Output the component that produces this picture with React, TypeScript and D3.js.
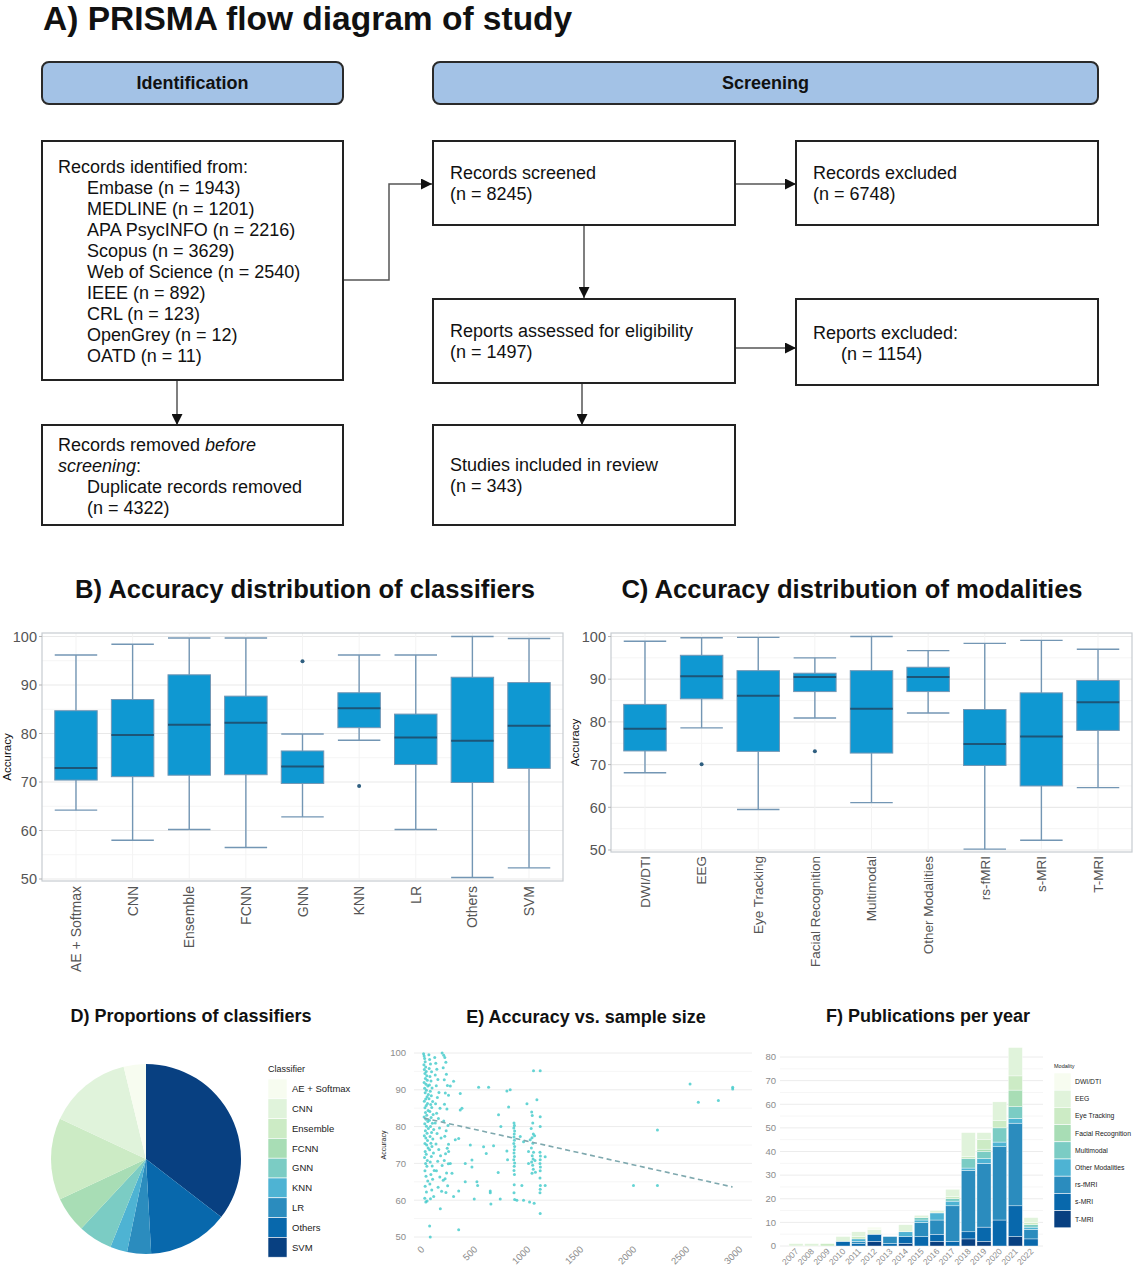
import * as d3 from 'd3';
import React from 'react';

const FONT = '"Liberation Sans", Arial, Helvetica, sans-serif';

/* ================= A) PRISMA ================= */

const sourceLines = [
  'Embase (n = 1943)',
  'MEDLINE (n = 1201)',
  'APA PsycINFO (n = 2216)',
  'Scopus (n = 3629)',
  'Web of Science (n = 2540)',
  'IEEE (n = 892)',
  'CRL (n = 123)',
  'OpenGrey (n = 12)',
  'OATD (n = 11)',
];

/* ================= B) classifiers ================= */

const classifiers = ['AE + Softmax', 'CNN', 'Ensemble', 'FCNN', 'GNN', 'KNN', 'LR', 'Others', 'SVM'];
const clfLower = [64.2, 58.0, 60.2, 56.5, 62.8, 78.6, 60.2, 50.3, 52.3];
const clfQ1 = [70.4, 71.1, 71.4, 71.5, 69.7, 81.2, 73.6, 69.9, 72.8];
const clfMedian = [72.9, 79.7, 81.8, 82.2, 73.2, 85.2, 79.2, 78.5, 81.6];
const clfQ3 = [84.7, 87.0, 92.1, 87.7, 76.4, 88.4, 84.0, 91.6, 90.5];
const clfUpper = [96.2, 98.4, 99.7, 99.7, 79.9, 96.2, 96.2, 100, 99.6];
const clfOutliers: number[][] = [[], [], [], [], [94.9], [69.2], [], [], []];

/* ================= C) modalities ================= */

const modalities = ['DWI/DTI', 'EEG', 'Eye Tracking', 'Facial Recognition', 'Multimodal', 'Other Modalities', 'rs-fMRI', 's-MRI', 'T-MRI'];
const modLower = [68.1, 78.6, 59.5, 80.9, 61.1, 82.1, 50.2, 52.3, 64.6];
const modQ1 = [73.2, 85.4, 73.1, 87.1, 72.7, 87.1, 69.8, 65.0, 78.0];
const modMedian = [78.4, 90.7, 86.1, 90.5, 83.1, 90.5, 74.8, 76.6, 84.6];
const modQ3 = [84.1, 95.6, 92.0, 91.4, 92.0, 92.8, 82.9, 86.8, 89.7];
const modUpper = [98.9, 99.7, 99.8, 95.0, 100, 96.7, 98.4, 99.1, 97.0];
const modOutliers: number[][] = [[], [70.1], [], [73.1], [], [], [], [], []];

/* ================= D) pie ================= */

const classifierCounts = [13, 49, 48, 21, 20, 10, 14, 47, 122];

/* ================= E) scatter ================= */

const scatterPoints: [number, number][] = [
  [15, 99.8], [20, 99.2], [25, 98.5], [30, 97.6], [18, 96.8], [35, 96.2], [22, 95.5], [40, 95], [28, 94.4], [45, 93.8],
  [32, 93.1], [50, 92.6], [20, 92], [38, 91.5], [55, 91], [25, 90.4], [42, 89.9], [30, 89.2], [60, 88.7], [48, 88.1],
  [35, 87.5], [22, 86.9], [52, 86.3], [40, 85.7], [28, 85.1], [58, 84.4], [33, 83.8], [45, 83.1], [20, 82.6], [38, 82],
  [55, 81.4], [26, 80.8], [42, 80.1], [60, 79.5], [32, 78.9], [48, 78.2], [22, 77.5], [36, 76.9], [52, 76.2], [28, 75.4],
  [44, 75], [58, 74.2], [30, 73.2], [40, 72.5], [24, 71.6], [50, 70.8], [34, 70], [46, 69.2], [28, 68], [38, 66.5],
  [54, 65.2], [30, 63.8], [42, 62.2], [26, 60.5], [36, 59.5], [48, 59.8],
  [65, 99.5], [72, 98.2], [80, 97], [68, 95.8], [90, 94.9], [75, 93.6], [85, 92.4], [70, 91.3], [95, 90.5], [78, 89.6],
  [88, 88.4], [66, 87.6], [100, 86.8], [82, 86], [92, 85.2], [74, 84.1], [105, 83.3], [86, 82.5], [70, 81.7], [98, 80.9],
  [80, 80], [110, 79.2], [90, 78.4], [76, 77.3], [102, 76.6], [84, 75.5], [94, 74.6], [72, 73.7], [108, 72.8], [88, 71.9],
  [78, 70.4], [96, 69.3], [115, 68.1], [84, 67], [100, 65.7], [74, 64.4], [92, 62.8], [110, 61], [80, 60.4], [72, 53], [78, 50],
  [120, 98.8], [130, 97.2], [140, 95.6], [125, 94], [150, 92.8], [135, 91.1], [160, 89.3], [145, 87.9], [128, 86.2], [170, 85],
  [138, 83.6], [155, 82.2], [125, 81], [165, 79.6], [142, 78.1], [180, 76.9], [132, 75.3], [158, 73.8], [175, 72.1], [148, 70.6],
  [190, 69.4], [136, 68], [168, 66.3], [200, 65.4], [152, 63.5], [185, 62.4], [173, 57.7],
  [190, 100], [205, 99.4], [215, 98.8], [225, 97.5], [200, 96], [230, 94.2], [210, 92.7], [240, 91.2], [220, 89.1], [250, 88.5],
  [212, 86.1], [235, 84.8], [205, 81.5], [245, 80.3], [228, 78.9], [215, 77.4], [250, 75.2], [238, 74.1], [222, 72.6], [210, 70.8],
  [248, 69.9], [232, 67.4], [218, 65.8], [242, 63.9], [226, 62.1],
  [267, 91], [298, 92.3], [361, 89], [361, 84.5], [377, 85], [314, 76.4], [346, 76.8], [251, 73.2], [267, 70], [283, 67.3],
  [408, 70], [408, 65], [298, 61], [346, 62.5], [346, 52], [456, 75], [471, 70.9], [471, 69], [493, 60.3], [518, 65],
  [525, 64], [534, 90.7], [581, 74.5], [606, 72.7], [628, 90.7], [644, 62.5], [644, 62], [650, 59], [675, 74.8], [719, 67.5],
  [722, 83.2], [738, 60.3], [744, 80], [801, 89.7], [801, 73.4], [807, 71], [817, 85.3], [832, 90],
  [868, 81], [872, 80.3], [866, 79.6], [874, 78.8], [870, 78], [868, 77.2], [872, 76.3], [866, 75.4], [874, 74.6], [870, 73.7],
  [868, 72.8], [872, 71.9], [866, 71], [874, 70.1], [870, 69.2], [868, 68.1], [872, 67], [870, 64.2], [868, 62], [874, 60.2],
  [895, 60], [927, 77.3], [942, 64], [958, 75.9], [958, 60], [990, 86.2], [1005, 73.2], [1005, 70], [1015, 59.5], [1021, 76.4],
  [1035, 84], [1040, 83], [1045, 81], [1030, 79.5], [1050, 78], [1038, 77], [1046, 75.5], [1032, 74.2], [1052, 73], [1040, 72.1],
  [1048, 71.2], [1034, 70.4], [1044, 69.5], [1050, 68.4], [1038, 67.3], [1052, 95.2], [1062, 77.5], [1066, 70.8], [1070, 67.6],
  [1084, 87.3], [1058, 59.2],
  [1115, 95.2], [1115, 82.7], [1115, 80], [1113, 73], [1117, 72], [1115, 71], [1113, 70], [1117, 69], [1115, 68], [1113, 66],
  [1117, 64], [1115, 63], [1113, 62], [1115, 56.4], [1162, 71.8], [1162, 64],
  [1995, 64], [2221, 79.1], [2221, 64], [2529, 91.6], [2607, 86.6], [2796, 87.1], [2931, 90.7], [2931, 90.2],
];
const trendLine: [number, number][] = [[20, 82.3], [2930, 63.6]];
const sampleTicks = [0, 500, 1000, 1500, 2000, 2500, 3000];

/* ================= F) publications ================= */

const years = ['2007', '2008', '2009', '2010', '2011', '2012', '2013', '2014', '2015', '2016', '2017', '2018', '2019', '2020', '2021', '2022'];
const pubDWI = [0, 0, 0, 0, 0, 1, 0, 0, 0, 0, 0, 0, 0, 0, 0, 0];
const pubEEG = [1, 1, 0, 2, 2, 2, 0, 3, 1, 1, 3, 10, 3, 8, 12, 2];
const pubEye = [0, 0, 1, 0, 1, 0, 0, 0, 0, 0, 1, 1, 4, 3, 6, 1];
const pubFacial = [0, 0, 0, 0, 0, 0, 0, 0, 0, 0, 0, 0, 1, 0, 7, 0];
const pubMulti = [0, 0, 0, 0, 0, 0, 0, 0, 1, 0, 1, 4, 3, 6, 5, 1];
const pubOther = [0, 0, 0, 0, 1, 0, 0, 2, 1, 3, 2, 1, 2, 2, 2, 1];
const pubRsfMRI = [0, 0, 0, 0, 1, 0, 3, 0, 6, 6, 15, 26, 27, 31, 35, 4];
const pubSMRI = [0, 0, 0, 2, 1, 3, 1, 3, 4, 3, 2, 3, 6, 11, 13, 3];
const pubTMRI = [0, 0, 0, 0, 0, 2, 0, 1, 0, 2, 0, 3, 2, 0, 4, 0];

const palette = d3.schemeGnBu[9];

/* ================= helpers ================= */

function BoxPanel({
  cats, lower, q1, med, q3, upper, outliers,
  left, right, top, bottom, y50, y100, labelTop, accX, labelSize,
}: any) {
  const x = d3.scalePoint<string>().domain(cats).range([left, right]).padding(0.6);
  const y = d3.scaleLinear().domain([50, 100]).range([y50, y100]);
  const bw = x.step() * 0.75;
  const major = y.ticks(5);
  const minor = d3.range(55, 100, 10);
  const wc = '#7396b4';
  return (
    <g>
      {minor.map((v) => (
        <line key={'m' + v} x1={left} x2={right} y1={y(v)} y2={y(v)} stroke="#f3f3f3" strokeWidth={0.8} />
      ))}
      {major.map((v) => (
        <line key={'g' + v} x1={left} x2={right} y1={y(v)} y2={y(v)} stroke="#e9e9e9" strokeWidth={1.2} />
      ))}
      {cats.map((c: string) => (
        <line key={'v' + c} x1={x(c)} x2={x(c)} y1={top} y2={bottom} stroke="#f3f3f3" strokeWidth={1} />
      ))}
      {cats.map((c: string, i: number) => {
        const cx = x(c) as number;
        return (
          <g key={c}>
            <line x1={cx} x2={cx} y1={y(upper[i])} y2={y(q3[i])} stroke={wc} strokeWidth={1.4} />
            <line x1={cx} x2={cx} y1={y(q1[i])} y2={y(lower[i])} stroke={wc} strokeWidth={1.4} />
            <line x1={cx - bw / 2} x2={cx + bw / 2} y1={y(upper[i])} y2={y(upper[i])} stroke={wc} strokeWidth={1.4} />
            <line x1={cx - bw / 2} x2={cx + bw / 2} y1={y(lower[i])} y2={y(lower[i])} stroke={wc} strokeWidth={1.4} />
            <rect x={cx - bw / 2} y={y(q3[i])} width={bw} height={y(q1[i]) - y(q3[i])} fill="#0f98d2" stroke={wc} strokeWidth={1} />
            <line x1={cx - bw / 2} x2={cx + bw / 2} y1={y(med[i])} y2={y(med[i])} stroke="#1d5577" strokeWidth={2} />
            {outliers[i].map((o: number) => (
              <circle key={o} cx={cx} cy={y(o)} r={2} fill="#2f5f80" />
            ))}
          </g>
        );
      })}
      <rect x={left} y={top} width={right - left} height={bottom - top} fill="none" stroke="#c7ccd1" strokeWidth={1.2} />
      {major.map((v) => (
        <g key={'t' + v}>
          <line x1={left - 3} x2={left} y1={y(v)} y2={y(v)} stroke="#b3b3b3" />
          <text x={left - 5} y={y(v)} dy="0.36em" textAnchor="end" fontSize={14.5} fill="#555">{v}</text>
        </g>
      ))}
      {cats.map((c: string) => (
        <text
          key={'l' + c}
          transform={`translate(${x(c)},${labelTop}) rotate(-90)`}
          dy="0.36em"
          textAnchor="end"
          fontSize={labelSize}
          fill="#555"
        >
          {c}
        </text>
      ))}
      <text
        transform={`translate(${accX},${(top + bottom) / 2}) rotate(-90)`}
        textAnchor="middle"
        fontSize={11.5}
        fill="#111"
      >
        Accuracy
      </text>
    </g>
  );
}

function FlowBox({ x, y, w, h }: any) {
  return <rect x={x} y={y} width={w} height={h} fill="white" stroke="#222" strokeWidth={2} />;
}

export default function App() {
  /* ---- D) pie ---- */
  const pieOrder = classifiers.map((c, i) => ({ c, v: classifierCounts[i], color: palette[i] })).reverse();
  const arcs = d3.pie<any>().sort(null).value((d) => d.v)(pieOrder);
  const arcGen = d3.arc<any>().innerRadius(0).outerRadius(95);

  /* ---- E) scatter ---- */
  const xE = d3.scaleLinear().domain([0, 3000]).range([422, 740]);
  const yE = d3.scaleLinear().domain([50, 100]).range([1237, 1053]);

  /* ---- F) stacked ---- */
  const stackKeys = ['T-MRI', 's-MRI', 'rs-fMRI', 'Other Modalities', 'Multimodal', 'Facial Recognition', 'Eye Tracking', 'EEG', 'DWI/DTI'];
  const seriesByKey: Record<string, number[]> = {
    'DWI/DTI': pubDWI, EEG: pubEEG, 'Eye Tracking': pubEye, 'Facial Recognition': pubFacial,
    Multimodal: pubMulti, 'Other Modalities': pubOther, 'rs-fMRI': pubRsfMRI, 's-MRI': pubSMRI, 'T-MRI': pubTMRI,
  };
  const rows = years.map((yr, i) => {
    const r: any = { year: yr };
    stackKeys.forEach((k) => (r[k] = seriesByKey[k][i]));
    return r;
  });
  const stacked = d3.stack<any>().keys(stackKeys)(rows);
  const xF = d3.scaleBand<string>().domain(years).range([786.6, 1040.4]).paddingInner(0.1).paddingOuter(0.15);
  const yF = d3.scaleLinear().domain([0, 80]).range([1246, 1057]);
  const colorOf = (k: string) => palette[modalities.indexOf(k)];

  const arrow = 'url(#arr)';

  return (
    <svg
      width={1137}
      height={1280}
      viewBox="0 0 1137 1280"
      style={{ position: 'absolute', left: 0, top: 0, background: 'white' }}
      fontFamily={FONT}
    >
      <defs>
        <marker id="arr" viewBox="0 0 10 10" refX="10" refY="5" markerWidth="11" markerHeight="11" markerUnits="userSpaceOnUse" orient="auto">
          <path d="M0,0 L10,5 L0,10 z" fill="#111" />
        </marker>
      </defs>
      <rect width={1137} height={1280} fill="white" />

      {/* ================= A ================= */}
      <text x={43} y={30} fontSize={33.5} fontWeight="bold" fill="#111">A) PRISMA flow diagram of study</text>

      <rect x={42} y={62} width={301} height={42} rx={7} fill="#a3c2e6" stroke="#2a2a2a" strokeWidth={2} />
      <text x={192.5} y={83} dy="0.36em" textAnchor="middle" fontSize={18} fontWeight="bold" fill="#111">Identification</text>
      <rect x={433} y={62} width={665} height={42} rx={7} fill="#a3c2e6" stroke="#2a2a2a" strokeWidth={2} />
      <text x={765.5} y={83} dy="0.36em" textAnchor="middle" fontSize={18} fontWeight="bold" fill="#111">Screening</text>

      <g stroke="#555" strokeWidth={1.5} fill="none">
        <polyline points="343,280 389,280 389,184 432,184" markerEnd={arrow} />
        <line x1={735} y1={184} x2={796} y2={184} markerEnd={arrow} />
        <line x1={584} y1={225} x2={584} y2={298} markerEnd={arrow} />
        <line x1={735} y1={348} x2={796} y2={348} markerEnd={arrow} />
        <line x1={582} y1={383} x2={582} y2={425} markerEnd={arrow} />
        <line x1={177} y1={380} x2={177} y2={425} markerEnd={arrow} />
      </g>

      <FlowBox x={42} y={141} w={301} h={239} />
      <FlowBox x={433} y={141} w={302} h={84} />
      <FlowBox x={796} y={141} w={302} h={84} />
      <FlowBox x={433} y={299} w={302} h={84} />
      <FlowBox x={796} y={299} w={302} h={86} />
      <FlowBox x={42} y={425} w={301} h={100} />
      <FlowBox x={433} y={425} w={302} h={100} />

      <g fontSize={18} fill="#111">
        <text x={58} y={173}>Records identified from:</text>
        {sourceLines.map((s, i) => (
          <text key={s} x={87} y={194 + i * 21}>{s}</text>
        ))}
        <text x={450} y={179}>Records screened</text>
        <text x={450} y={200}>(n = 8245)</text>
        <text x={813} y={179}>Records excluded</text>
        <text x={813} y={200}>(n = 6748)</text>
        <text x={450} y={337}>Reports assessed for eligibility</text>
        <text x={450} y={358}>(n = 1497)</text>
        <text x={813} y={339}>Reports excluded:</text>
        <text x={841} y={360}>(n = 1154)</text>
        <text x={450} y={471}>Studies included in review</text>
        <text x={450} y={492}>(n = 343)</text>
        <text x={58} y={451}>
          Records removed <tspan fontStyle="italic">before</tspan>
        </text>
        <text x={58} y={472}>
          <tspan fontStyle="italic">screening</tspan>:
        </text>
        <text x={87} y={493}>Duplicate records removed</text>
        <text x={87} y={514}>(n = 4322)</text>
      </g>

      {/* ================= B & C ================= */}
      <text x={305} y={598} textAnchor="middle" fontSize={25.6} fontWeight="bold" fill="#111">B) Accuracy distribution of classifiers</text>
      <text x={852} y={598} textAnchor="middle" fontSize={25.6} fontWeight="bold" fill="#111">C) Accuracy distribution of modalities</text>

      <BoxPanel
        cats={classifiers} lower={clfLower} q1={clfQ1} med={clfMedian} q3={clfQ3} upper={clfUpper} outliers={clfOutliers}
        left={42} right={563} top={633} bottom={881} y50={879} y100={636.5} labelTop={886} accX={11} labelSize={14}
      />
      <BoxPanel
        cats={modalities} lower={modLower} q1={modQ1} med={modMedian} q3={modQ3} upper={modUpper} outliers={modOutliers}
        left={611} right={1132} top={633} bottom={852} y50={850} y100={636.5} labelTop={856} accX={579} labelSize={13.5}
      />

      {/* ================= D ================= */}
      <text x={191} y={1022} textAnchor="middle" fontSize={18} fontWeight="bold" fill="#111">D) Proportions of classifiers</text>
      <g transform="translate(146,1159)">
        {arcs.map((a) => (
          <path key={a.data.c} d={arcGen(a) as string} fill={a.data.color} />
        ))}
      </g>
      <text x={268} y={1072} fontSize={9} fill="#222">Classifier</text>
      {classifiers.map((c, i) => (
        <g key={c}>
          <rect x={268} y={1079 + i * 19.8} width={19} height={19.8} fill={palette[i]} stroke="white" strokeWidth={0.6} />
          <text x={292} y={1079 + i * 19.8 + 9.9} dy="0.35em" fontSize={9.5} fill="#222">{c}</text>
        </g>
      ))}

      {/* ================= E ================= */}
      <text x={586} y={1023} textAnchor="middle" fontSize={18} fontWeight="bold" fill="#111">E) Accuracy vs. sample size</text>
      {d3.range(55, 100, 10).map((v) => (
        <line key={'em' + v} x1={414} x2={752} y1={yE(v)} y2={yE(v)} stroke="#f6f6f6" />
      ))}
      {yE.ticks(5).map((v) => (
        <g key={'e' + v}>
          <line x1={414} x2={752} y1={yE(v)} y2={yE(v)} stroke="#ececec" />
          <text x={406} y={yE(v)} dy="0.35em" textAnchor="end" fontSize={9.5} fill="#8c8c8c">{v}</text>
        </g>
      ))}
      {sampleTicks.map((t) => (
        <text
          key={'ex' + t}
          transform={`translate(${xE(t) + 3},${1250}) rotate(-45)`}
          textAnchor="end"
          fontSize={9.5}
          fill="#8c8c8c"
        >
          {t}
        </text>
      ))}
      <text transform={`translate(386,${yE(75)}) rotate(-90)`} textAnchor="middle" fontSize={7} fill="#222">Accuracy</text>
      {scatterPoints.map((p, i) => (
        <circle key={i} cx={xE(p[0])} cy={yE(p[1])} r={1.5} fill="#3fc9c9" fillOpacity={0.8} />
      ))}
      <line
        x1={xE(trendLine[0][0])} y1={yE(trendLine[0][1])}
        x2={xE(trendLine[1][0])} y2={yE(trendLine[1][1])}
        stroke="#7ea8ae" strokeWidth={1.6} strokeDasharray="5,3.5"
      />

      {/* ================= F ================= */}
      <text x={928} y={1022} textAnchor="middle" fontSize={18} fontWeight="bold" fill="#111">F) Publications per year</text>
      {d3.range(5, 85, 10).map((v) => (
        <line key={'fm' + v} x1={780} x2={1043} y1={yF(v)} y2={yF(v)} stroke="#f6f6f6" />
      ))}
      {yF.ticks(8).map((v) => (
        <g key={'f' + v}>
          <line x1={780} x2={1043} y1={yF(v)} y2={yF(v)} stroke="#ececec" />
          <text x={776} y={yF(v)} dy="0.35em" textAnchor="end" fontSize={9.5} fill="#8c8c8c">{v}</text>
        </g>
      ))}
      {stacked.map((s) => (
        <g key={s.key} fill={colorOf(s.key)}>
          {s.map((d, i) =>
            d[1] > d[0] ? (
              <rect
                key={i}
                x={xF(years[i])}
                y={yF(d[1])}
                width={xF.bandwidth()}
                height={yF(d[0]) - yF(d[1])}
                stroke="white"
                strokeWidth={0.4}
              />
            ) : null
          )}
        </g>
      ))}
      {years.map((yr) => (
        <text
          key={'fx' + yr}
          transform={`translate(${(xF(yr) as number) + xF.bandwidth() / 2 + 3},${1252}) rotate(-45)`}
          textAnchor="end"
          fontSize={8.5}
          fill="#8c8c8c"
        >
          {yr}
        </text>
      ))}
      <text x={1054} y={1068} fontSize={5.5} fill="#222">Modality</text>
      {modalities.map((m, i) => (
        <g key={m}>
          <rect x={1054} y={1073 + i * 17.2} width={17} height={17.2} fill={palette[i]} stroke="white" strokeWidth={0.6} />
          <text x={1075} y={1073 + i * 17.2 + 8.6} dy="0.35em" fontSize={6.8} fill="#222">{m}</text>
        </g>
      ))}
    </svg>
  );
}
